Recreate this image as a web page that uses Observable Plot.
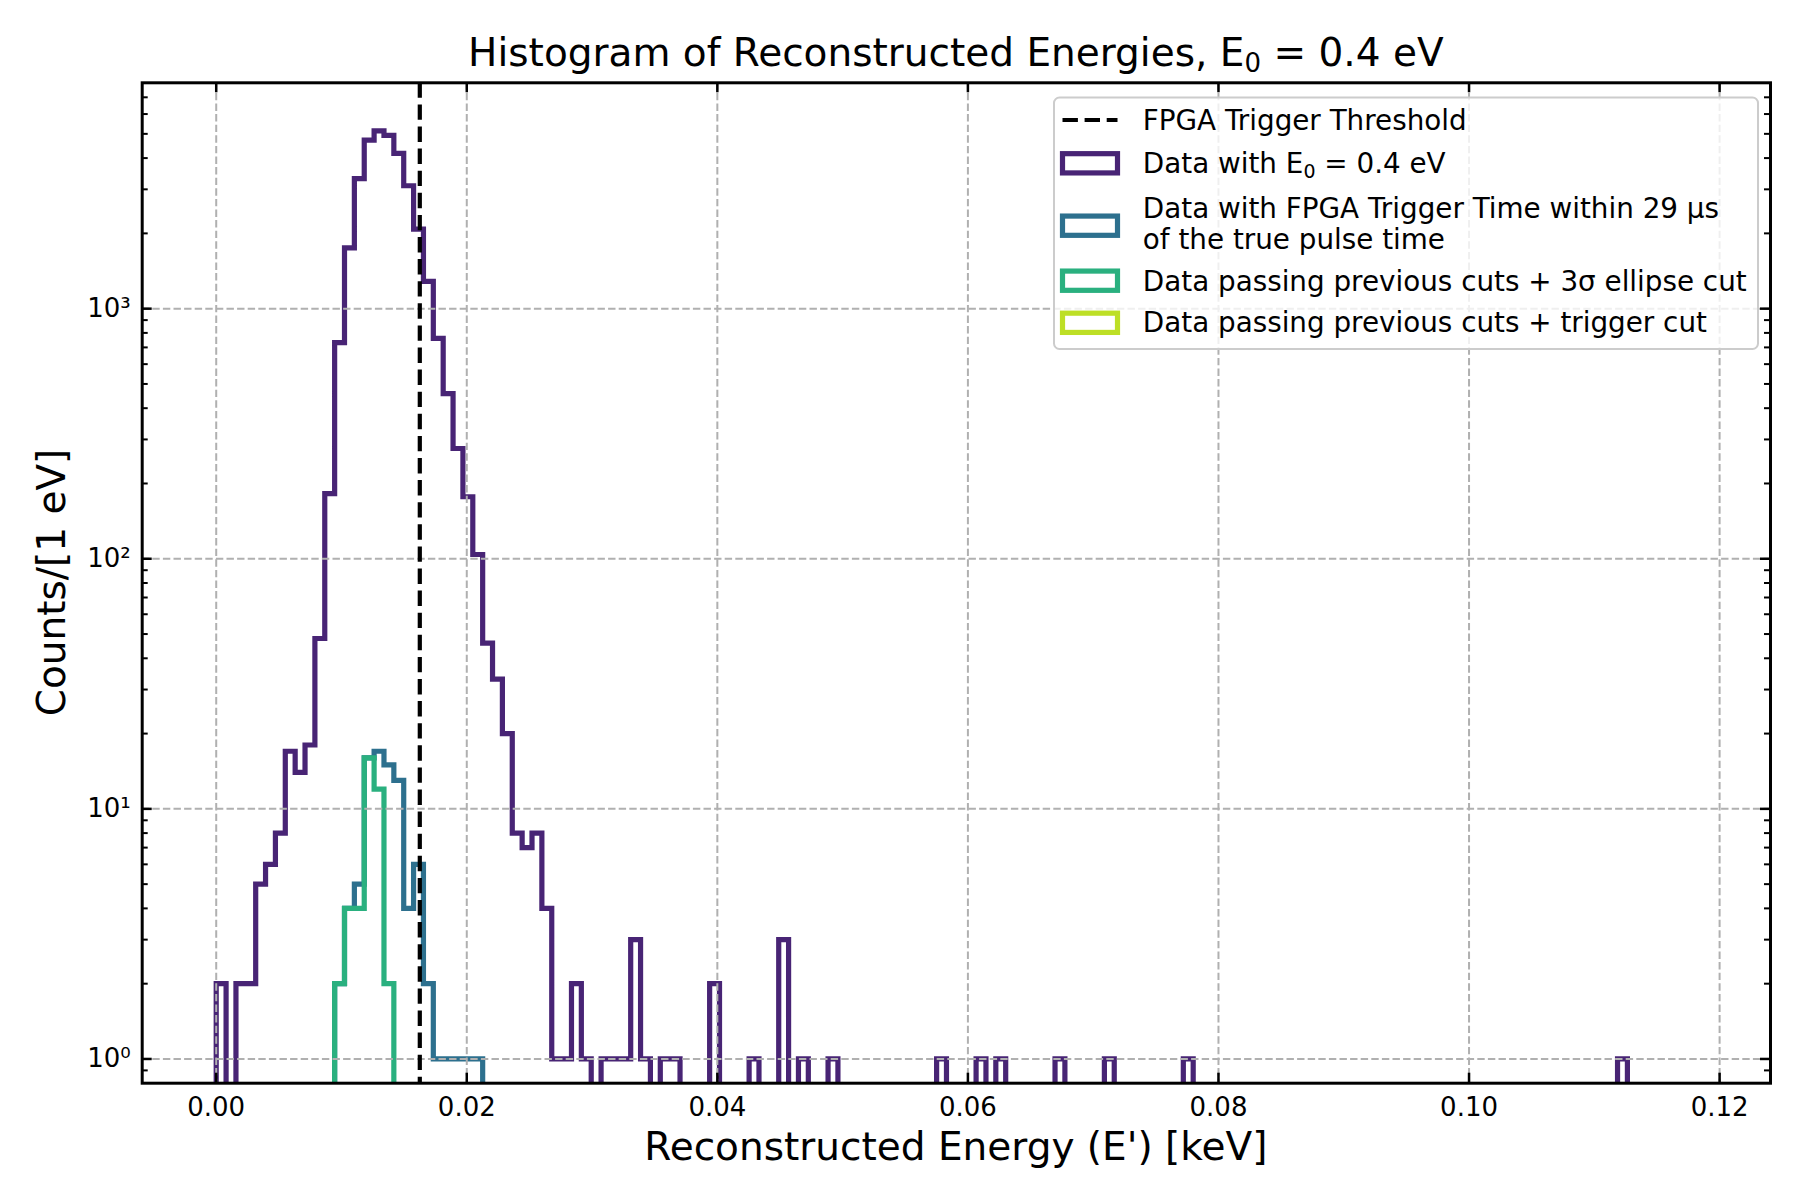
<!DOCTYPE html>
<html>
<head>
<meta charset="utf-8">
<script src="https://cdn.jsdelivr.net/npm/d3@7"></script>
<script src="https://cdn.jsdelivr.net/npm/@observablehq/plot@0.6"></script>
<style>
  html, body { margin: 0; padding: 0; background: #ffffff; }
  #chart { width: 1800px; height: 1200px; }
  svg text { font-family: "DejaVu Sans", sans-serif; }
</style>
</head>
<body>
<div id="chart"></div>
<script>
// ---------------- data ----------------
const binStart = 0;            // keV, left edge of first bin
const binWidth = 0.0007877;    // keV per bin

// "Data with E0 = 0.4 eV" : counts per bin (150 bins)
const allCounts = [
  2, 0, 2, 2, 5, 6, 8, 17, 14, 18,
  48, 182, 731, 1750, 3310, 4720, 5135, 4930, 4180, 3100,
  2080, 1285, 760, 457, 276, 177, 104, 46, 33, 20,
  8, 7, 8, 4, 1, 1, 2, 1, 0, 1,
  1, 1, 3, 1, 0, 1, 1, 0, 0, 0,
  2, 0, 0, 0, 1, 0, 0, 3, 0, 1,
  0, 0, 1, 0, 0, 0, 0, 0, 0, 0,
  0, 0, 0, 1, 0, 0, 0, 1, 0, 1,
  0, 0, 0, 0, 0, 1, 0, 0, 0, 0,
  1, 0, 0, 0, 0, 0, 0, 0, 1, 0,
  0, 0, 0, 0, 0, 0, 0, 0, 0, 0,
  0, 0, 0, 0, 0, 0, 0, 0, 0, 0,
  0, 0, 0, 0, 0, 0, 0, 0, 0, 0,
  0, 0, 0, 0, 0, 0, 0, 0, 0, 0,
  0, 0, 1, 0, 0, 0, 0, 0, 0, 0
];

// "Data with FPGA Trigger Time within 29 us of the true pulse time"
const timeCutFirstBin = 12;
const timeCutCounts = [2, 4, 5, 16, 17, 15, 13, 4, 6, 2, 1, 1, 1, 1, 1];

// "Data passing previous cuts + 3 sigma ellipse cut"
const ellipseCutFirstBin = 12;
const ellipseCutCounts = [2, 4, 4, 16, 12, 2];

// "Data passing previous cuts + trigger cut" (no entries)
const triggerCutFirstBin = 0;
const triggerCutCounts = [];

const thresholdKeV = 0.01625;

const xTicks = [0, 0.02, 0.04, 0.06, 0.08, 0.10, 0.12];
const yTicks = [1, 10, 100, 1000];
const yTickLabels = ["10\u2070", "10\u00b9", "10\u00b2", "10\u00b3"];
const yDomain = [0.8, 8000];

const seriesColorPos = [0.1, 0.3667, 0.6333, 0.9];

// ---------------- layout ----------------
const W = 1800, H = 1200;
const mL = 141.7, mR = 30, mT = 82.3, mB = 117.3;
const innerW = W - mL - mR, innerH = H - mT - mB;
const majorLen = 10, minorLen = 6;
const histStroke = 5.2;
const floorCount = 1e-2; // zero bins are drawn below the frame (clipped)

const colors = seriesColorPos.map(t => d3.interpolateViridis(t));

const nBins = allCounts.length;
const binEnd = binStart + nBins * binWidth;
const span = binEnd - binStart;
const xDomain = [binStart - 0.05 * span, binEnd + 0.05 * span];

function stepVertices(counts, firstBin) {
  const pts = [];
  const push = (x, y) => {
    const p = pts[pts.length - 1];
    if (!p || p.x !== x || p.y !== y) pts.push({x, y});
  };
  if (!counts.length) return pts;
  push(binStart + firstBin * binWidth, floorCount);
  counts.forEach((c, i) => {
    const y = c > 0 ? c : floorCount;
    push(binStart + (firstBin + i) * binWidth, y);
    push(binStart + (firstBin + i + 1) * binWidth, y);
  });
  push(binStart + (firstBin + counts.length) * binWidth, floorCount);
  return pts;
}

const series = [
  {counts: allCounts, firstBin: 0},
  {counts: timeCutCounts, firstBin: timeCutFirstBin},
  {counts: ellipseCutCounts, firstBin: ellipseCutFirstBin},
  {counts: triggerCutCounts, firstBin: triggerCutFirstBin}
];

const yMinor = [];
for (let e = -1; e <= 3; e++) {
  for (let m = 1; m <= 9; m++) {
    const v = m * Math.pow(10, e);
    if (v > yDomain[0] && v < yDomain[1] && !yTicks.includes(v)) yMinor.push(v);
  }
}

const gridStyle = {stroke: "#b0b0b0", strokeOpacity: 1, strokeWidth: 2, strokeDasharray: "7.4,3.2"};

const chart = Plot.plot({
  width: W,
  height: H,
  marginLeft: mL,
  marginRight: mR,
  marginTop: mT,
  marginBottom: mB,
  style: {fontFamily: "DejaVu Sans", background: "white", color: "black", overflow: "visible"},
  x: {domain: xDomain},
  y: {type: "log", domain: yDomain},
  marks: [
    ...series.map((s, k) => Plot.line(stepVertices(s.counts, s.firstBin), {
      x: "x", y: "y", stroke: colors[k], strokeWidth: histStroke,
      strokeLinejoin: "miter", strokeMiterlimit: 10, strokeLinecap: "butt", clip: true
    })),
    Plot.gridX(xTicks, gridStyle),
    Plot.gridY(yTicks, gridStyle),
    Plot.ruleX([thresholdKeV], {x: d => d, stroke: "black", strokeWidth: 4.2, strokeDasharray: "15.4,6.7"}),
    Plot.frame({stroke: "black", strokeWidth: 3}),
    // inward ticks
    Plot.ruleX(xTicks, {x: d => d, insetTop: innerH - majorLen, stroke: "black", strokeWidth: 2.5}),
    Plot.ruleX(xTicks, {x: d => d, insetBottom: innerH - majorLen, stroke: "black", strokeWidth: 2.5}),
    Plot.ruleY(yTicks, {y: d => d, insetRight: innerW - majorLen, stroke: "black", strokeWidth: 2.5}),
    Plot.ruleY(yTicks, {y: d => d, insetLeft: innerW - majorLen, stroke: "black", strokeWidth: 2.5}),
    Plot.ruleY(yMinor, {y: d => d, insetRight: innerW - minorLen, stroke: "black", strokeWidth: 2}),
    Plot.ruleY(yMinor, {y: d => d, insetLeft: innerW - minorLen, stroke: "black", strokeWidth: 2}),
    Plot.axisX(xTicks, {anchor: "bottom", tickSize: 0, tickPadding: 14, tickFormat: d3.format(".2f"), fontSize: 26, label: null}),
    Plot.axisY(yTicks, {anchor: "left", tickSize: 0, tickPadding: 11.5, tickFormat: d => yTickLabels[yTicks.indexOf(d)], fontSize: 26, label: null})
  ]
});

document.getElementById("chart").appendChild(chart);

// ---------------- titles & labels ----------------
const svg = d3.select(chart);
const cx = mL + innerW / 2;
const cy = mT + innerH / 2;

const title = svg.append("text")
  .attr("x", cx).attr("y", 66)
  .attr("text-anchor", "middle")
  .attr("font-size", 39)
  .attr("fill", "black");
title.append("tspan").text("Histogram of Reconstructed Energies, E");
title.append("tspan").attr("font-size", 26).attr("dy", 6).text("0");
title.append("tspan").attr("dy", -6).text(" = 0.4 eV");

svg.append("text")
  .attr("x", cx).attr("y", 1160)
  .attr("text-anchor", "middle")
  .attr("font-size", 39)
  .attr("fill", "black")
  .text("Reconstructed Energy (E') [keV]");

svg.append("text")
  .attr("transform", `translate(65,${cy}) rotate(-90)`)
  .attr("text-anchor", "middle")
  .attr("font-size", 39)
  .attr("fill", "black")
  .text("Counts/[1 eV]");

// ---------------- legend ----------------
const legendFont = 27.8;
const lg = svg.append("g")
  .attr("font-size", legendFont)
  .attr("fill", "black")
  .attr("text-anchor", "start");
lg.append("rect")
  .attr("x", 1054).attr("y", 97.5)
  .attr("width", 704).attr("height", 251.5)
  .attr("rx", 5.5)
  .attr("fill", "white").attr("fill-opacity", 0.8)
  .attr("stroke", "#cccccc").attr("stroke-width", 2);

const handleX = 1062.5, handleW = 55, handleH = 19.25, textX = 1142.8;

const legendRows = [
  {kind: "line", center: 120, baselines: [130], lines: [["FPGA Trigger Threshold"]]},
  {kind: "patch", color: colors[0], center: 163.3, baselines: [173.3], lines: [["Data with E", {sub: "0"}, " = 0.4 eV"]]},
  {kind: "patch", color: colors[1], center: 225.7, baselines: [217.5, 249], lines: [["Data with FPGA Trigger Time within 29 \u03bcs"], ["of the true pulse time"]]},
  {kind: "patch", color: colors[2], center: 280.7, baselines: [291.2], lines: [["Data passing previous cuts + 3\u03c3 ellipse cut"]]},
  {kind: "patch", color: colors[3], center: 322.8, baselines: [332.2], lines: [["Data passing previous cuts + trigger cut"]]}
];

legendRows.forEach(row => {
  if (row.kind === "line") {
    lg.append("line")
      .attr("x1", handleX).attr("x2", handleX + handleW)
      .attr("y1", row.center).attr("y2", row.center)
      .attr("stroke", "black").attr("stroke-width", 4.2)
      .attr("stroke-dasharray", "15.4,6.7");
  } else {
    lg.append("rect")
      .attr("x", handleX).attr("y", row.center - handleH / 2)
      .attr("width", handleW).attr("height", handleH)
      .attr("fill", "none").attr("stroke", row.color).attr("stroke-width", histStroke);
  }
  row.lines.forEach((parts, li) => {
    const t = lg.append("text").attr("x", textX).attr("y", row.baselines[li]).attr("text-anchor", "start");
    let shifted = 0;
    parts.forEach(p => {
      if (typeof p === "string") {
        t.append("tspan").attr("dy", -shifted).text(p);
        shifted = 0;
      } else {
        t.append("tspan").attr("font-size", 19).attr("dy", 4.5).text(p.sub);
        shifted = 4.5;
      }
    });
  });
});
</script>
</body>
</html>
